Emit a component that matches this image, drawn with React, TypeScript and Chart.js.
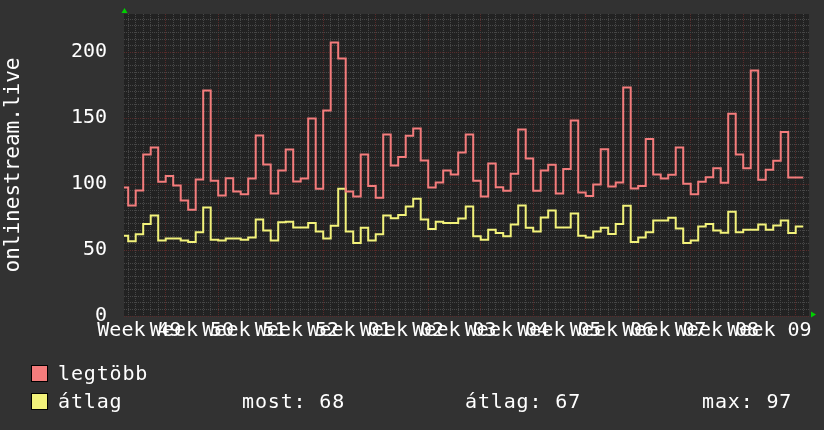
import React, { useEffect, useRef } from "react";
import { Chart, registerables } from "chart.js";

Chart.register(...registerables);

// ---- data (one value per day; first value is the partial day before day 0) ----
const FIRST_DAY = -1;
const MAX_VALUES = [
  97.5, 83.8, 95.2, 122.5, 127.8, 101.8, 106.1, 99, 87.6, 80.6,
  103.5, 171, 102.5, 91.4, 104.5, 94.4, 92.4, 104.3, 136.9, 114.9,
  92.9, 110.4, 126.3, 102, 104.3, 149.7, 96.5, 155.8, 207.3, 195.2,
  94.4, 90.7, 122.5, 98.5, 89.6, 137.6, 114.1, 120.5, 136.6, 142.2,
  117.9, 97.5, 101.3, 110.4, 107.3, 124, 137.6, 102.5, 90.7, 115.7,
  97.7, 95, 107.8, 141.4, 119.4, 95, 110.4, 114.6, 92.9, 111.4,
  148.2, 93.7, 90.9, 99.7, 126.5, 98.2, 101.3, 173.2, 96.7, 98.5,
  134.3, 107.3, 104.3, 107.1, 127.8, 100.3, 92.4, 101.8, 105.3, 112.1,
  101, 153.3, 122.5, 112.1, 186.1, 103.3, 110.9, 117.7, 139.6, 105,
  105,
];
const AVG_VALUES = [
  60.9, 56.6, 61.9, 69.7, 76.3, 57.3, 58.8, 58.8, 57.3, 56.1,
  63.6, 82.3, 57.8, 57.3, 58.8, 58.8, 57.8, 59.6, 73.2, 64.9,
  57.3, 71, 71.5, 67.2, 67.2, 70.5, 64.1, 58.8, 68.4, 96.5,
  64.1, 55.3, 66.9, 57.3, 61.9, 76.3, 74.2, 76.5, 83.1, 88.9,
  73.2, 65.9, 71.5, 70.5, 70.5, 74, 83.1, 60.4, 57.8, 65.4,
  62.9, 60.4, 69.4, 83.8, 66.9, 64.1, 74.7, 80, 67.2, 67.2,
  77.8, 60.9, 59.6, 64.1, 66.9, 62.1, 69.7, 83.6, 56.1, 59.6,
  63.6, 72.5, 72.5, 74.5, 66.4, 55.3, 57.3, 67.9, 69.7, 64.9,
  63.1, 79, 63.6, 65.4, 65.4, 69.4, 65.4, 68.7, 72.5, 62.9,
  67.9,
];
const WEEK_LABELS = [
  "Week 49", "Week 50", "Week 51", "Week 52", "Week 01", "Week 02", "Week 03",
  "Week 04", "Week 05", "Week 06", "Week 07", "Week 08", "Week 09",
];
const Y_MAJOR_TICKS = [0, 50, 100, 150, 200];
const Y_TITLE = "onlinestream.live";
const SERIES_NAMES = ["legtöbb", "átlag"];
const STAT_TEXTS = ["most: 68", "átlag: 67", "max: 97"];

// ---- layout / style ----
const X_MIN = -0.56;
const X_MAX = 90.77;
const Y_MAX = 229;
const FIRST_MONDAY = 5; // day index of first weekly grid line
const FONT = '"DejaVu Sans Mono", monospace';
const BG = "#323232";
const PLOT_BG = "#222222";
const MINOR = "#474747";
const MAJOR = "#582a2a";
const RED = "#f47c7c";
const YELLOW = "#f2f27a";
const TEXT = "#ffffff";
const ARROW = "#00d000";
const DASH = [1, 1];

function toPoints(values: number[]) {
  const pts = values.map((v, i) => ({ x: Math.max(FIRST_DAY + i, X_MIN), y: v }));
  pts.push({ x: FIRST_DAY + values.length, y: values[values.length - 1] });
  return pts;
}

const labelPos = (k: number) => FIRST_MONDAY - 3.5 + 7 * k;

export default function App() {
  const ref = useRef<HTMLCanvasElement | null>(null);

  useEffect(() => {
    const canvas = ref.current!;
    const xTicks: number[] = [];
    for (let d = 0; d <= 90; d++) xTicks.push(d);
    WEEK_LABELS.forEach((_, k) => xTicks.push(labelPos(k)));
    xTicks.sort((a, b) => a - b);
    const yTicks: number[] = [];
    for (let v = 0; v <= 225; v += 5) yTicks.push(v);

    const bgPlugin = {
      id: "bg",
      beforeDraw(chart: any) {
        const { ctx, chartArea: a } = chart;
        ctx.save();
        ctx.fillStyle = BG;
        ctx.fillRect(0, 0, chart.width, chart.height);
        ctx.fillStyle = PLOT_BG;
        ctx.fillRect(a.left, a.top, a.right - a.left, a.bottom - a.top);
        ctx.restore();
      },
      afterDraw(chart: any) {
        const { ctx, chartArea: a } = chart;
        ctx.save();
        // axis arrows
        ctx.fillStyle = ARROW;
        ctx.beginPath();
        ctx.moveTo(a.left + 0.5, a.top - 6);
        ctx.lineTo(a.left - 2.5, a.top - 1);
        ctx.lineTo(a.left + 3.5, a.top - 1);
        ctx.closePath();
        ctx.fill();
        ctx.beginPath();
        ctx.moveTo(a.right + 7, a.bottom - 1.5);
        ctx.lineTo(a.right + 2, a.bottom - 4.5);
        ctx.lineTo(a.right + 2, a.bottom + 1.5);
        ctx.closePath();
        ctx.fill();
        // legend
        const colors = [RED, YELLOW];
        const rowsY = [365.5, 393.5];
        ctx.font = `20px ${FONT}`;
        (ctx as any).letterSpacing = "0.85px";
        ctx.textBaseline = "alphabetic";
        ctx.textAlign = "left";
        colors.forEach((c, i) => {
          ctx.fillStyle = c;
          ctx.fillRect(31.5, rowsY[i], 16, 16);
          ctx.strokeStyle = "#000";
          ctx.lineWidth = 1;
          ctx.strokeRect(31.5, rowsY[i], 16, 16);
          ctx.fillStyle = TEXT;
          ctx.fillText(SERIES_NAMES[i], 58, rowsY[i] + 14.5);
        });
        const statX = [242, 465, 702];
        STAT_TEXTS.forEach((t, i) => ctx.fillText(t, statX[i], rowsY[1] + 14.5));
        ctx.restore();
      },
    };

    const chart = new Chart(canvas, {
      type: "line",
      data: {
        datasets: [
          { label: SERIES_NAMES[0], data: toPoints(MAX_VALUES), borderColor: RED, borderWidth: 2, pointRadius: 0, stepped: true, fill: false },
          { label: SERIES_NAMES[1], data: toPoints(AVG_VALUES), borderColor: YELLOW, borderWidth: 2, pointRadius: 0, stepped: true, fill: false },
        ],
      },
      options: {
        responsive: false,
        animation: false,
        devicePixelRatio: 1,
        layout: { padding: { top: 14, right: 15, left: 0, bottom: 0 } },
        plugins: { legend: { display: false }, tooltip: { enabled: false } },
        scales: {
          x: {
            type: "linear",
            min: X_MIN,
            max: X_MAX,
            afterBuildTicks: (s: any) => { s.ticks = xTicks.map((v) => ({ value: v })); },
            afterFit: (s: any) => { s.height = 114; s.paddingLeft = 0; s.paddingRight = 0; },
            grid: {
              drawTicks: false,
              lineWidth: 1,
              color: (c: any) => {
                const v = c.tick ? c.tick.value : 0;
                if (!Number.isInteger(v)) return "rgba(0,0,0,0)";
                return (v - FIRST_MONDAY) % 7 === 0 ? MAJOR : MINOR;
              },
            },
            border: { display: false, dash: DASH },
            ticks: {
              autoSkip: false, maxRotation: 0, minRotation: 0, padding: 3, color: TEXT,
              font: { family: FONT, size: 20 },
              callback: (v: any) => {
                const k = WEEK_LABELS.findIndex((_, i) => Math.abs(labelPos(i) - v) < 1e-6);
                return k >= 0 ? WEEK_LABELS[k] : "";
              },
            },
          },
          y: {
            type: "linear",
            min: 0,
            max: Y_MAX,
            afterBuildTicks: (s: any) => { s.ticks = yTicks.map((v) => ({ value: v })); },
            afterFit: (s: any) => { s.width = 124; s.paddingTop = 0; s.paddingBottom = 0; },
            grid: {
              drawTicks: false,
              lineWidth: 1,
              color: (c: any) => {
                const v = c.tick ? c.tick.value : 0;
                return Y_MAJOR_TICKS.includes(v) ? MAJOR : MINOR;
              },
            },
            border: { display: false, dash: DASH },
            ticks: {
              autoSkip: false, padding: 17, color: TEXT,
              font: { family: FONT, size: 20 },
              callback: (v: any) => (Y_MAJOR_TICKS.includes(v) ? String(v) : ""),
            },
            title: { display: true, text: Y_TITLE, color: TEXT, font: { family: FONT, size: 21 }, padding: { top: 1, bottom: 0 } },
          },
        },
      },
      plugins: [bgPlugin],
    } as any);
    return () => chart.destroy();
  }, []);

  return (
    <div style={{ position: "fixed", left: 0, top: 0, width: 824, height: 430 }}>
      <canvas ref={ref} width={824} height={430} style={{ display: "block" }} />
    </div>
  );
}
